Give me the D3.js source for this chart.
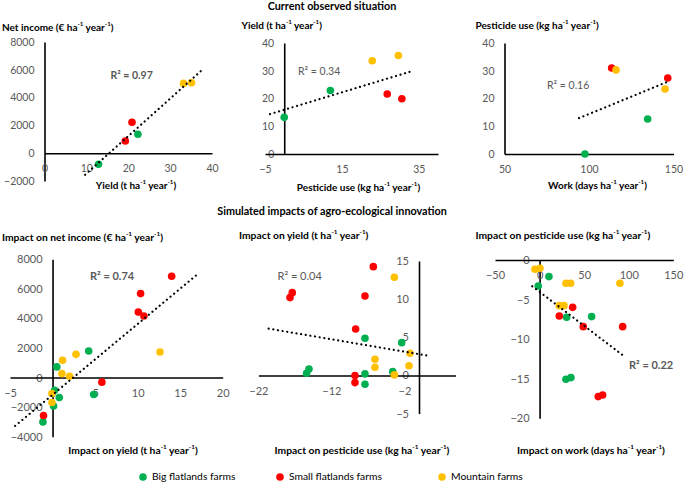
<!DOCTYPE html>
<html><head><meta charset="utf-8">
<script src="https://cdn.jsdelivr.net/npm/d3@7"></script>
<style>
html,body{margin:0;padding:0;background:#fff;}
svg{display:block;font-family:Lato,"Open Sans",sans-serif;}
</style></head>
<body><svg id="chart" width="685" height="483"></svg>
<script>
// ---------------- DATA ----------------
const groupNames = ["Big flatlands farms", "Small flatlands farms", "Mountain farms"];

// Current observed situation
const obsYieldIncome = {
  green: [[12.9, -800], [22.3, 1360]],
  red: [[19.3, 880], [20.9, 2230]],
  yellow: [[33.2, 5020], [35.1, 5070]]
};
const obsPestYield = {
  green: [[0, 13.2], [12, 22.9]],
  red: [[26.8, 21.6], [30.6, 19.9]],
  yellow: [[22.9, 33.6], [29.7, 35.5]]
};
const obsWorkPest = {
  green: [[97.6, 0], [134.7, 12.6]],
  red: [[113.4, 31.0], [146.6, 27.4]],
  yellow: [[116, 30.3], [145, 23.4]]
};
// Simulated impacts
const simYieldIncome = {
  green: [[4.25, 1800], [0.5, 720], [4.84, -1150], [0.24, -860], [0.79, -1350], [0.12, -1920], [-1.13, -3000]],
  red: [[14.0, 6850], [10.35, 5680], [10.08, 4430], [10.74, 4160], [5.8, -310], [-1.06, -2570]],
  yellow: [[12.63, 1730], [2.76, 1570], [1.18, 1170], [1.1, 270], [2.0, 90], [-0.07, -1080], [-0.07, -1690]]
};
const simPestYield = {
  green: [[-7.4, 4.87], [-2.37, 4.3], [-15.07, 0.85], [-15.4, 0.29], [-3.6, 0.5], [-7.4, 0.2], [-7.4, -1.15]],
  red: [[-6.26, 14.26], [-17.36, 10.85], [-17.67, 10.2], [-7.4, 10.42], [-8.68, 6.09], [-8.77, 0], [-8.77, -0.94]],
  yellow: [[-3.38, 12.87], [-1.23, 2.9], [-6.03, 2.12], [-6.03, 1.07], [-1.37, 1.28], [-3.38, 0.07]]
};
const simWorkPest = {
  green: [[10.5, -2.1], [-1.5, -3.28], [30.4, -7.24], [58.4, -7.15], [29.6, -15.07], [35.2, -14.86]],
  red: [[22.1, -7.07], [37.1, -5.98], [49, -8.42], [93.2, -8.42], [65.8, -17.26], [70.7, -17.05]],
  yellow: [[-5.2, -1.17], [0.4, -1.05], [29.6, -2.94], [34.8, -2.94], [90.1, -2.94], [22.1, -5.77], [27.4, -5.77]]
};

// Trendline x extents (forecast forward/backward as in source)
const trendExtents = [[9.7, 37.5], [-3.7, 32.6], [94.1, 146.9], [-4.4, 17.05], [-20.6, 1.27], [-8.2, 95.7]];
const r2Labels = ["R\u00B2 = 0.97", "R\u00B2 = 0.34", "R\u00B2 = 0.16", "R\u00B2 = 0.74", "R\u00B2 = 0.04", "R\u00B2 = 0.22"];

// Axis domains and tick labels
const xDomains = [[0, 40], [-5, 40], [50, 150], [-5, 20], [-22, 5], [-50, 150]];
const yDomains = [[-2000, 8000], [0, 40], [0, 40], [-4000, 8000], [-5, 15], [-20, 0]];
const xTickVals = [[0, 10, 20, 30, 40], [-5, 15, 35], [50, 100, 150], [-5, 0, 5, 10, 15, 20], [-22, -12, -2], [-50, 0, 50, 100, 150]];
const yTickVals = [[-2000, 0, 2000, 4000, 6000, 8000], [0, 10, 20, 30, 40], [0, 10, 20, 30, 40],
                   [-4000, -2000, 0, 2000, 4000, 6000, 8000], [-5, 0, 5, 10, 15], [-20, -15, -10, -5, 0]];

// Titles ({s: ...} = superscript part)
const yTitles = [
  ["Net income (\u20AC ha", {s: "-1"}, " year", {s: "-1"}, ")"],
  ["Yield (t ha", {s: "-1"}, " year", {s: "-1"}, ")"],
  ["Pesticide use (kg ha", {s: "-1"}, " year", {s: "-1"}, ")"],
  ["Impact on net income (\u20AC ha", {s: "-1"}, " year", {s: "-1"}, ")"],
  ["Impact on yield (t ha", {s: "-1"}, " year", {s: "-1"}, ")"],
  ["Impact on pesticide use (kg ha", {s: "-1"}, " year", {s: "-1"}, ")"]
];
const xTitles = [
  ["Yield (t ha", {s: "-1"}, " year", {s: "-1"}, ")"],
  ["Pesticide use (kg ha", {s: "-1"}, " year", {s: "-1"}, ")"],
  ["Work (days ha", {s: "-1"}, " year", {s: "-1"}, ")"],
  ["Impact on yield (t ha", {s: "-1"}, " year", {s: "-1"}, ")"],
  ["Impact on pesticide use (kg ha", {s: "-1"}, " year", {s: "-1"}, ")"],
  ["Impact on work (days ha", {s: "-1"}, " year", {s: "-1"}, ")"]
];
const sectionTitles = ["Current observed situation", "Simulated impacts of agro-ecological innovation"];

// ---------------- LAYOUT / STYLE ----------------
const colors = {green: "#00B050", red: "#FF0000", yellow: "#FFC000"};
const seriesOrder = ["green", "red", "yellow"];
const datasets = [obsYieldIncome, obsPestYield, obsWorkPest, simYieldIncome, simPestYield, simWorkPest];

const layout = [
  {xr: [44.5, 212], yr: [181, 42], yTitle: [2, 28], xTitle: [136, 186], r2: [110.5, 76], r2Bold: true, fs: 10.5, tfs: 10},
  {xr: [265, 438], yr: [154, 43], yTitle: [241.5, 26], xTitle: [358.5, 188], r2: [298, 72], r2Bold: false, fs: 10.5, tfs: 10},
  {xr: [504.5, 673.5], yr: [154, 43], yTitle: [475.5, 26], xTitle: [597.5, 186], r2: [547, 86], r2Bold: false, fs: 10.5, tfs: 10},
  {xr: [10, 222.7], yr: [436.7, 259.3], yTitle: [2, 238], xTitle: [133, 451], r2: [90, 277], r2Bold: true, fs: 11, tfs: 10.3},
  {xr: [258.4, 455.5], yr: [413.6, 261], yTitle: [239, 236], xTitle: [362, 451], r2: [277.5, 277], r2Bold: false, fs: 11, tfs: 10.3},
  {xr: [495, 673.3], yr: [418.3, 260], yTitle: [475.5, 236], xTitle: [591, 451], r2: [629, 366], r2Bold: true, fs: 11, tfs: 10.3}
];

const svg = d3.select("#chart");
const labelGray = "#595959";

function richText(g, parts, x, y, size, anchor, weight) {
  const t = g.append("text").attr("x", x).attr("y", y)
    .attr("font-size", size).attr("font-weight", weight || "bold")
    .attr("text-anchor", anchor || "start").attr("dominant-baseline", "middle").attr("fill", "#000");
  const lift = size * 0.38;
  let raised = false;
  parts.forEach(p => {
    if (typeof p === "string") {
      const ts = t.append("tspan").text(p);
      if (raised) { ts.attr("dy", lift); raised = false; }
    } else {
      t.append("tspan").text(p.s).attr("font-size", size * 0.62).attr("dy", -lift);
      raised = true;
    }
  });
  return t;
}

// Section titles
svg.append("text").attr("x", 332).attr("y", 7.5).attr("text-anchor", "middle").attr("dominant-baseline", "middle")
  .attr("font-size", 10.8).attr("font-weight", "bold").text(sectionTitles[0]);
svg.append("text").attr("x", 332).attr("y", 212).attr("text-anchor", "middle").attr("dominant-baseline", "middle")
  .attr("font-size", 10.8).attr("font-weight", "bold").text(sectionTitles[1]);

datasets.forEach((ds, i) => {
  const L = layout[i];
  const x = d3.scaleLinear().domain(xDomains[i]).range(L.xr);
  const y = d3.scaleLinear().domain(yDomains[i]).range(L.yr);
  const g = svg.append("g");

  // axis crossing positions (at 0 if within domain, otherwise at the minimum)
  const xd = xDomains[i], yd = yDomains[i];
  const yCross = (yd[0] <= 0 && yd[1] >= 0) ? 0 : yd[0];
  const xCross = (xd[0] <= 0 && xd[1] >= 0) ? 0 : xd[0];

  const xAxis = d3.axisBottom(x).tickValues(xTickVals[i]).tickSize(0).tickSizeOuter(0).tickPadding(10).tickFormat(d3.format("d"));
  const yAxis = d3.axisLeft(y).tickValues(yTickVals[i]).tickSize(0).tickSizeOuter(0).tickPadding(10).tickFormat(d3.format("d"));

  const gy = g.append("g").attr("transform", `translate(${x(xCross)},0)`).call(yAxis);
  const gx = g.append("g").attr("transform", `translate(0,${y(yCross)})`).call(xAxis);
  [gx, gy].forEach(a => {
    a.select(".domain").attr("stroke", "#000").attr("stroke-width", 1.6);
    a.selectAll("text").attr("fill", labelGray).attr("font-size", L.fs).attr("font-family", "Lato, sans-serif");
  });
  gx.selectAll("text").attr("dy", "0.35em").attr("y", 15.5);
  gx.raise();

  // points
  const all = [];
  seriesOrder.forEach(k => {
    ds[k].forEach(p => all.push(p));
    g.append("g").selectAll("circle").data(ds[k]).join("circle")
      .attr("cx", d => x(d[0])).attr("cy", d => y(d[1])).attr("r", 3.8)
      .attr("fill", colors[k]);
  });

  // linear regression trendline
  const mx = d3.mean(all, d => d[0]), my = d3.mean(all, d => d[1]);
  const sxy = d3.sum(all, d => (d[0] - mx) * (d[1] - my));
  const sxx = d3.sum(all, d => (d[0] - mx) ** 2);
  const slope = sxy / sxx, icpt = my - slope * mx;
  const te = trendExtents[i];
  g.append("line")
    .attr("x1", x(te[0])).attr("y1", y(icpt + slope * te[0]))
    .attr("x2", x(te[1])).attr("y2", y(icpt + slope * te[1]))
    .attr("stroke", "#000").attr("stroke-width", 2.2).attr("stroke-linecap", "round")
    .attr("stroke-dasharray", "0.1 4.6");

  // R² label
  g.append("text").attr("x", L.r2[0]).attr("y", L.r2[1]).attr("dominant-baseline", "middle")
    .attr("font-size", L.fs).attr("font-weight", L.r2Bold ? "bold" : "normal")
    .attr("fill", labelGray).text(r2Labels[i]);

  // titles
  richText(g, yTitles[i], L.yTitle[0], L.yTitle[1], L.tfs, "start");
  richText(g, xTitles[i], L.xTitle[0], L.xTitle[1], L.tfs, "middle");
});

// Legend
const legendX = [143, 280, 442];
const lg = svg.append("g");
seriesOrder.forEach((k, j) => {
  lg.append("circle").attr("cx", legendX[j]).attr("cy", 477).attr("r", 3.8).attr("fill", colors[k]);
  lg.append("text").attr("x", legendX[j] + 9).attr("y", 477).attr("dominant-baseline", "middle")
    .attr("font-size", 10.3).attr("fill", "#000").text(groupNames[j]);
});
</script></body></html>
